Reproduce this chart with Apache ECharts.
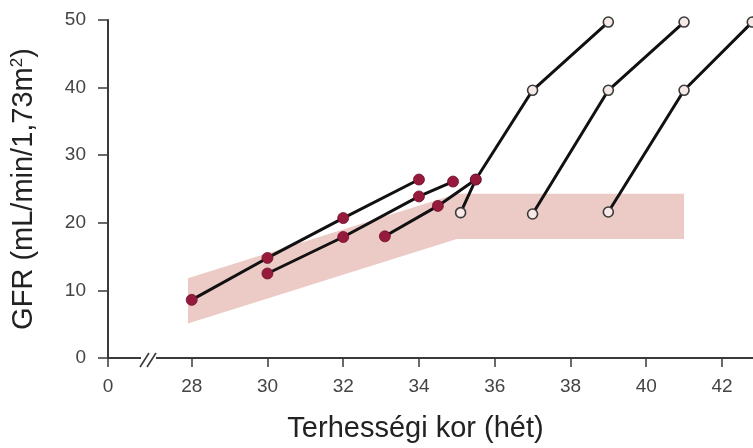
<!DOCTYPE html>
<html>
<head>
<meta charset="utf-8">
<script src="https://cdn.jsdelivr.net/npm/echarts@6/dist/echarts.min.js"></script>
<style>
html,body{margin:0;padding:0;background:#fff;}
#chart{width:753px;height:448px;}
</style>
</head>
<body>
<div id="chart"></div>
<script>
// ---- data ----
var xTicks = [28, 30, 32, 34, 36, 38, 40, 42];
var yTicks = [0, 10, 20, 30, 40, 50];

// reference band (normal range)
var bandWeeks = [27.9, 35, 41];
var bandUpper = [11.8, 24.3, 24.3];
var bandLower = [5.1, 17.6, 17.6];

// filled (measured) trajectories
var filledAWeeks = [28, 30, 32, 34];
var filledAGfr   = [8.6, 14.8, 20.7, 26.4];
var filledBWeeks = [30, 32, 34, 34.9];
var filledBGfr   = [12.5, 17.9, 23.9, 26.1];
var filledCWeeks = [33.1, 34.5, 35.5];
var filledCGfr   = [18.0, 22.5, 26.4];

// open (after birth) trajectories
var open1Weeks = [35.1, 35.5, 37, 39];
var open1Gfr   = [21.5, 26.4, 39.6, 49.7];
var open2Weeks = [37, 39, 41];
var open2Gfr   = [21.3, 39.6, 49.7];
var open3Weeks = [39, 41, 42.8];
var open3Gfr   = [21.6, 39.6, 49.7];

var xMin = 25.79, xMax = 42.82;

function pairs(xs, ys){ return xs.map(function(x,i){ return [x, ys[i]]; }); }

var chart = echarts.init(document.getElementById('chart'), null, {renderer:'canvas'});

var FONT = "'Liberation Sans', Arial, Helvetica, sans-serif";
var AXIS_COLOR = '#3a3a3a';
var LINE_COLOR = '#111111';
var FILL_DOT = '#951a3c';
var OPEN_FILL = '#f6e9e6';

function lineSeries(name, xs, ys, filled, z){
  return {
    type: 'line',
    name: name,
    data: pairs(xs, ys),
    z: z,
    symbol: 'circle',
    symbolSize: filled ? 11 : 10,
    showAllSymbol: true,
    lineStyle: {color: LINE_COLOR, width: 3},
    itemStyle: filled ? {color: FILL_DOT, borderColor: '#6e0f2a', borderWidth: 0.8}
                      : {color: OPEN_FILL, borderColor: '#3a3a3a', borderWidth: 1.6},
    emphasis: {disabled: true},
    animation: false
  };
}

var option = {
  animation: false,
  grid: {left: 108, right: 0, top: 20, bottom: 88, containLabel: false},
  xAxis: {
    type: 'value',
    min: xMin, max: xMax,
    splitLine: {show: false},
    axisLine: {show: true, lineStyle: {color: AXIS_COLOR, width: 2}},
    axisTick: {show: true, length: 9, lineStyle: {color: AXIS_COLOR, width: 1.5},
               customValues: [xMin].concat(xTicks)},
    axisLabel: {
      customValues: [xMin].concat(xTicks),
      color: '#444', fontFamily: FONT, fontSize: 19, margin: 19,
      formatter: function(v){ return v < 27 ? '0' : String(Math.round(v)); }
    },
    name: 'Terhességi kor (hét)',
    nameLocation: 'middle',
    nameGap: 56,
    nameTextStyle: {color: '#222', fontFamily: FONT, fontSize: 29, padding: [0, 30, 0, 0]}
  },
  yAxis: {
    type: 'value',
    min: 0, max: 50, interval: 10,
    splitLine: {show: false},
    axisLine: {show: true, lineStyle: {color: AXIS_COLOR, width: 2}},
    axisTick: {show: true, length: 10, lineStyle: {color: AXIS_COLOR, width: 1.5}},
    axisLabel: {color: '#444', fontFamily: FONT, fontSize: 19, margin: 22,
                formatter: function(v){ return yTicks.indexOf(v) >= 0 ? String(v) : ''; }},
    name: 'GFR (mL/min/1,73m{sup|2})',
    nameLocation: 'middle',
    nameGap: 70,
    nameTextStyle: {color: '#222', fontFamily: FONT, fontSize: 29,
      rich: {sup: {fontSize: 17, verticalAlign: 'top', color: '#222', fontFamily: FONT, padding:[0,0,12,0]}}}
  },
  graphic: [
    {type: 'rect', shape: {x: 141, y: 354, width: 15, height: 12}, style: {fill: '#fff'}, z: 100},
    {type: 'line', shape: {x1: 140, y1: 367, x2: 149, y2: 353}, style: {stroke: AXIS_COLOR, lineWidth: 1.6}, z: 101},
    {type: 'line', shape: {x1: 147, y1: 367, x2: 156, y2: 353}, style: {stroke: AXIS_COLOR, lineWidth: 1.6}, z: 101}
  ],
  series: [
    {
      type: 'custom',
      name: 'band',
      z: 1,
      data: [[bandWeeks[0], bandLower[0]]],
      renderItem: function(params, api){
        var pts = [];
        for (var i = 0; i < bandWeeks.length; i++) pts.push(api.coord([bandWeeks[i], bandUpper[i]]));
        for (var j = bandWeeks.length - 1; j >= 0; j--) pts.push(api.coord([bandWeeks[j], bandLower[j]]));
        return {type: 'polygon', shape: {points: pts}, style: {fill: '#eccac6'}};
      },
      animation: false,
      silent: true
    },
    lineSeries('open1', open1Weeks, open1Gfr, false, 2),
    lineSeries('open2', open2Weeks, open2Gfr, false, 2),
    lineSeries('open3', open3Weeks, open3Gfr, false, 2),
    lineSeries('A', filledAWeeks, filledAGfr, true, 3),
    lineSeries('B', filledBWeeks, filledBGfr, true, 3),
    lineSeries('C', filledCWeeks, filledCGfr, true, 4)
  ]
};
chart.setOption(option);
</script>
</body>
</html>
